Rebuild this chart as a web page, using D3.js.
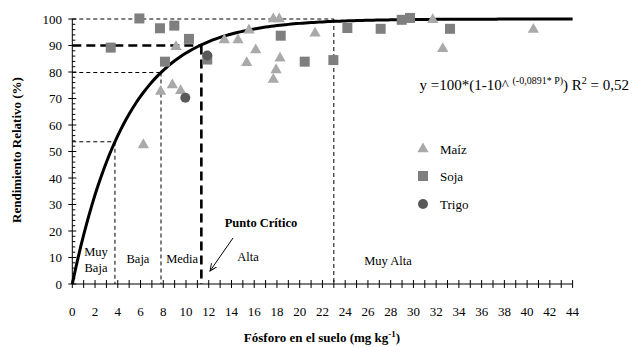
<!DOCTYPE html>
<html><head><meta charset="utf-8">
<script src="https://cdn.jsdelivr.net/npm/d3@7"></script>
<style>body{margin:0;background:#fff}svg{display:block}</style>
</head><body><svg id="c" width="632" height="347"></svg>
<script>
// ---- data ----
const maizX = [6.25, 7.77, 8.8, 9.53, 9.12, 13.37, 14.57, 15.54, 17.68, 18.2, 16.13, 15.34, 18.27, 17.92, 17.68, 21.35, 31.7, 32.58, 40.55];
const maizY = [52.5, 72.6, 75.1, 72.9, 89.5, 92.1, 92.1, 95.8, 100, 100, 88.3, 83.5, 85.2, 80.8, 77.2, 94.6, 99.7, 88.8, 96.0];
const sojaX = [3.38, 5.9, 7.71, 8.97, 10.26, 8.15, 11.87, 18.33, 20.44, 22.96, 24.19, 27.12, 28.97, 29.7, 33.22];
const sojaY = [89.2, 100.2, 96.5, 97.5, 92.5, 83.9, 84.7, 93.7, 83.9, 84.5, 96.6, 96.3, 99.7, 100.4, 96.3];
const trigoX = [11.87, 9.94];
const trigoY = [86.2, 70.3];
const xTicks = d3.range(0, 45, 2);
const yTicks = d3.range(0, 101, 10);
const coefB = 0.0891; // y = 100*(1-10^(-b*P))
const critP = 11.35, critY = 90;
const zones = [{p: 3.75}, {p: 7.8}];
const muyAltaP = 23;
const zoneLabels = ["Baja", "Media", "Alta", "Muy Alta"];
const legendNames = ["Maíz", "Soja", "Trigo"];

const svg = d3.select("#c");
const x = d3.scaleLinear().domain([0, 44]).range([72.3, 572.6]);
const y = d3.scaleLinear().domain([0, 100]).range([284, 19]);
const f = p => 100 * (1 - Math.pow(10, -coefB * p));
const serif = "'Liberation Serif','Times New Roman',serif";

// reference lines
const g = svg.append("g").attr("fill", "none").attr("stroke", "#000");
function dashed(x1, y1, x2, y2, w, dash) {
  g.append("line").attr("x1", x(x1)).attr("y1", y(y1)).attr("x2", x(x2)).attr("y2", y(y2))
    .attr("stroke-width", w).attr("stroke-dasharray", dash);
}
dashed(0, 100, muyAltaP, 100, 1, "4,3");
dashed(muyAltaP, 100, muyAltaP, 0, 1, "4,3");
zones.forEach(z => { const v = f(z.p); dashed(0, v, z.p, v, 1, "4,3"); dashed(z.p, v, z.p, 0, 1, "4,3"); });
dashed(0, critY, critP, critY, 2.6, "9,5");
dashed(critP, critY, critP, 0, 2.6, "9,5");

// curve
const pts = d3.range(0, 44.01, 0.25).map(p => [p, f(p)]);
svg.append("path").datum(pts).attr("fill", "none").attr("stroke", "#000").attr("stroke-width", 3)
  .attr("d", d3.line().x(d => x(d[0])).y(d => y(d[1])));

// axes
const ax = svg.append("g").attr("stroke", "#000").attr("stroke-width", 1);
ax.append("line").attr("x1", x(0)).attr("x2", x(44)).attr("y1", y(0)).attr("y2", y(0));
ax.append("line").attr("x1", x(0)).attr("x2", x(0)).attr("y1", y(0)).attr("y2", y(100));
d3.range(0, 45, 1).forEach(t => ax.append("line").attr("x1", x(t)).attr("x2", x(t)).attr("y1", y(0) - 4).attr("y2", y(0) + 4));
d3.range(0, 101, 2).forEach(t => {
  const major = t % 10 === 0;
  ax.append("line").attr("y1", y(t)).attr("y2", y(t)).attr("x1", x(0) - (major ? 4 : 0)).attr("x2", x(0) + (major ? 4 : 3));
});
svg.append("g").selectAll("text").data(xTicks).join("text")
  .attr("x", d => x(d)).attr("y", 316).attr("text-anchor", "middle")
  .attr("font-family", serif).attr("font-size", 13).text(d => d);
svg.append("g").selectAll("text").data(yTicks).join("text")
  .attr("x", 62).attr("y", d => y(d)).attr("dy", "0.35em").attr("text-anchor", "end")
  .attr("font-family", serif).attr("font-size", 13).text(d => d);

const xt = svg.append("text").attr("x", 322).attr("y", 342).attr("text-anchor", "middle")
  .attr("font-family", serif).attr("font-size", 13).attr("font-weight", "bold");
xt.append("tspan").text("Fósforo en el suelo (mg kg");
xt.append("tspan").attr("dy", -5).attr("font-size", 9).text("-1");
xt.append("tspan").attr("dy", 5).text(")");
svg.append("text").attr("transform", "translate(21,150) rotate(-90)").attr("text-anchor", "middle")
  .attr("font-family", serif).attr("font-size", 13).attr("font-weight", "bold").text("Rendimiento Relativo (%)");

// points
const tri = d3.symbol().type(d3.symbolTriangle).size(55);
svg.append("g").selectAll("path").data(maizX.map((v, i) => [v, maizY[i]])).join("path")
  .attr("d", tri).attr("transform", d => `translate(${x(d[0])},${y(d[1])})`).attr("fill", "#a9a9a9");
svg.append("g").selectAll("rect").data(sojaX.map((v, i) => [v, sojaY[i]])).join("rect")
  .attr("x", d => x(d[0]) - 5).attr("y", d => y(d[1]) - 5).attr("width", 10).attr("height", 10).attr("fill", "#7f7f7f");
svg.append("g").selectAll("circle").data(trigoX.map((v, i) => [v, trigoY[i]])).join("circle")
  .attr("cx", d => x(d[0])).attr("cy", d => y(d[1])).attr("r", 5).attr("fill", "#595959");

// legend
const lg = svg.append("g");
const ly = [149, 176, 204];
lg.append("path").attr("d", tri).attr("transform", `translate(423,${ly[0]})`).attr("fill", "#a9a9a9");
lg.append("rect").attr("x", 418).attr("y", ly[1] - 5).attr("width", 10).attr("height", 10).attr("fill", "#7f7f7f");
lg.append("circle").attr("cx", 423).attr("cy", ly[2]).attr("r", 5).attr("fill", "#595959");
legendNames.forEach((n, i) => lg.append("text").attr("x", 440).attr("y", ly[i]).attr("dy", "0.35em")
  .attr("font-family", serif).attr("font-size", 13).text(n));

// equation
const eq = svg.append("text").attr("x", 629).attr("y", 90).attr("text-anchor", "end")
  .attr("font-family", serif).attr("font-size", 15);
eq.append("tspan").text("y =100*(1-10^ ");
eq.append("tspan").attr("dy", -6).attr("font-size", 10).text("(-0,0891* P)");
eq.append("tspan").attr("dy", 6).text(") R");
eq.append("tspan").attr("dy", -6).attr("font-size", 10).text("2");
eq.append("tspan").attr("dy", 6).text(" = 0,52");

// zone labels
const tl = (t, px, py, bold) => svg.append("text").attr("x", px).attr("y", py).attr("text-anchor", "middle")
  .attr("font-family", serif).attr("font-size", 12.5).attr("font-weight", bold ? "bold" : "normal").text(t);
tl("Muy", 96, 256); tl("Baja", 96, 272);
tl(zoneLabels[0], x((zones[0].p + zones[1].p) / 2), 263);
tl(zoneLabels[1], x((zones[1].p + critP) / 2) + 1, 263);
tl(zoneLabels[2], 248, 261);
tl(zoneLabels[3], 388, 265);
tl("Punto Crítico", 261, 227, true);

// arrow
svg.append("defs").append("marker").attr("id", "ah").attr("viewBox", "0 0 10 10").attr("refX", 9).attr("refY", 5)
  .attr("markerWidth", 8).attr("markerHeight", 8).attr("orient", "auto")
  .append("path").attr("d", "M0,1 L9,5 L0,9").attr("fill", "none").attr("stroke", "#000").attr("stroke-width", 1.2);
svg.append("line").attr("x1", 233).attr("y1", 238).attr("x2", 210).attr("y2", 271)
  .attr("stroke", "#000").attr("stroke-width", 1).attr("marker-end", "url(#ah)");
</script></body></html>
